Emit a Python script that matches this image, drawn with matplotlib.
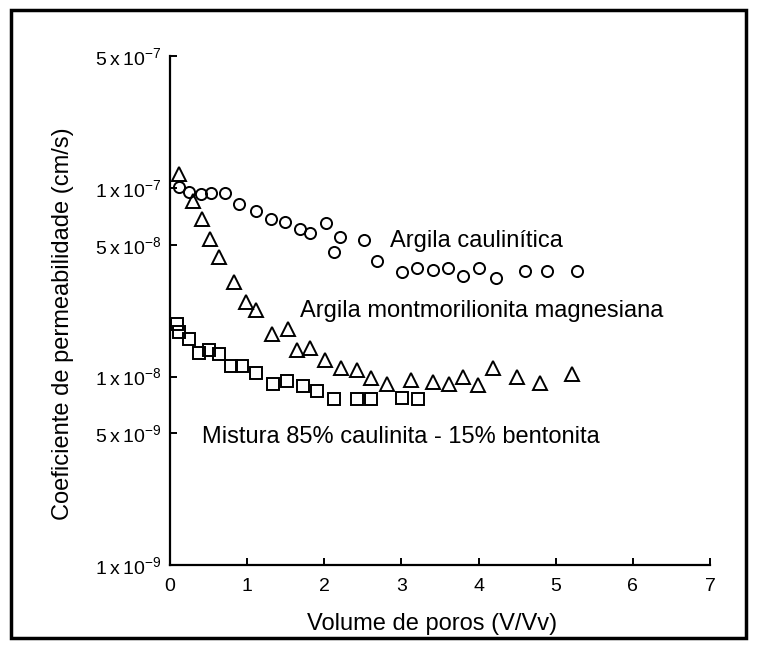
import matplotlib.pyplot as plt
from matplotlib.patches import Rectangle

plt.rcParams['font.family'] = ['Liberation Sans', 'DejaVu Sans']
plt.rcParams['mathtext.fontset'] = 'custom'
plt.rcParams['mathtext.rm'] = 'Liberation Sans'
plt.rcParams['mathtext.it'] = 'Liberation Sans'

# Argila caulinitica (circles)
caul_x = [0.12, 0.25, 0.40, 0.53, 0.71, 0.89, 1.11, 1.31, 1.49, 1.69, 1.81, 2.02,
          2.13, 2.20, 2.51, 2.68, 3.01, 3.20, 3.41, 3.60, 3.80, 4.01, 4.22, 4.60,
          4.89, 5.27]
caul_y = [1.01e-7, 9.5e-8, 9.3e-8, 9.4e-8, 9.4e-8, 8.2e-8, 7.55e-8, 6.85e-8, 6.6e-8,
          6.05e-8, 5.8e-8, 6.55e-8, 4.6e-8, 5.5e-8, 5.3e-8, 4.1e-8, 3.6e-8, 3.78e-8,
          3.67e-8, 3.75e-8, 3.41e-8, 3.78e-8, 3.34e-8, 3.63e-8, 3.63e-8, 3.63e-8]

# Argila montmorilionita magnesiana (triangles)
mont_x = [0.11, 0.30, 0.42, 0.52, 0.63, 0.83, 0.99, 1.12, 1.32, 1.53, 1.64, 1.82,
          2.01, 2.22, 2.43, 2.61, 2.81, 3.13, 3.41, 3.61, 3.80, 3.99, 4.19, 4.50,
          4.79, 5.21]
mont_y = [1.19e-7, 8.55e-8, 6.85e-8, 5.35e-8, 4.3e-8, 3.18e-8, 2.49e-8, 2.25e-8,
          1.69e-8, 1.78e-8, 1.38e-8, 1.42e-8, 1.23e-8, 1.11e-8, 1.09e-8, 9.8e-9,
          9.1e-9, 9.6e-9, 9.4e-9, 9.1e-9, 1.0e-8, 9.0e-9, 1.11e-8, 1.0e-8, 9.2e-9,
          1.03e-8]

# Mistura 85% caulinita - 15% bentonita (squares)
mist_x = [0.09, 0.12, 0.25, 0.38, 0.50, 0.63, 0.79, 0.93, 1.12, 1.33, 1.51, 1.72,
          1.91, 2.12, 2.42, 2.61, 3.01, 3.22]
mist_y = [1.9e-8, 1.73e-8, 1.58e-8, 1.34e-8, 1.39e-8, 1.32e-8, 1.14e-8, 1.14e-8,
          1.04e-8, 9.1e-9, 9.45e-9, 8.95e-9, 8.4e-9, 7.65e-9, 7.65e-9, 7.57e-9,
          7.7e-9, 7.65e-9]

y_ticks = [1e-9, 5e-9, 1e-8, 5e-8, 1e-7, 5e-7]
y_labels = [r'$1\:\mathrm{x}\:10^{-9}$', r'$5\:\mathrm{x}\:10^{-9}$',
            r'$1\:\mathrm{x}\:10^{-8}$', r'$5\:\mathrm{x}\:10^{-8}$',
            r'$1\:\mathrm{x}\:10^{-7}$', r'$5\:\mathrm{x}\:10^{-7}$']

fig = plt.figure(figsize=(7.57, 6.48), dpi=100)
ax = fig.add_axes([0.2246, 0.128, 0.7134, 0.785])

mk = dict(linestyle='none', markerfacecolor='none', markeredgecolor='black',
          markeredgewidth=1.4, clip_on=False)
ax.plot(caul_x, caul_y, marker='o', markersize=8, **mk)
ax.plot(mont_x, mont_y, marker='^', markersize=10, **mk)
ax.plot(mist_x, mist_y, marker='s', markersize=8, **mk)

ax.set_yscale('log')
ax.set_xlim(0, 7)
ax.set_ylim(1e-9, 5e-7)
ax.set_yticks(y_ticks)
ax.set_yticklabels(y_labels)
ax.yaxis.set_minor_locator(plt.NullLocator())
ax.set_xticks(range(8))

for s in ['top', 'right']:
    ax.spines[s].set_visible(False)
for s in ['left', 'bottom']:
    ax.spines[s].set_linewidth(1.6)
ax.tick_params(direction='in', length=5, width=1.4, labelsize=14, pad=6)
ax.tick_params(axis='x', pad=9)

ax.set_xlabel('Volume de poros (V/Vv)', fontsize=17)
ax.set_ylabel('Coeficiente de permeabilidade (cm/s)', fontsize=17)
ax.xaxis.set_label_coords(0.486, -0.094)
ax.yaxis.set_label_coords(-0.178, 0.474)

ax.text(2.85, 4.85e-8, 'Argila caulinítica', fontsize=17, va='baseline')
ax.text(1.68, 2.06e-8, 'Argila montmorilionita magnesiana', fontsize=17, va='baseline')
ax.text(0.42, 4.44e-9, 'Mistura 85% caulinita - 15% bentonita', fontsize=17, va='baseline')

fig.patches.append(Rectangle((0.015, 0.015), 0.97, 0.97, transform=fig.transFigure,
                             fill=False, edgecolor='black', linewidth=2.5))

fig.savefig('out.png', dpi=100)
